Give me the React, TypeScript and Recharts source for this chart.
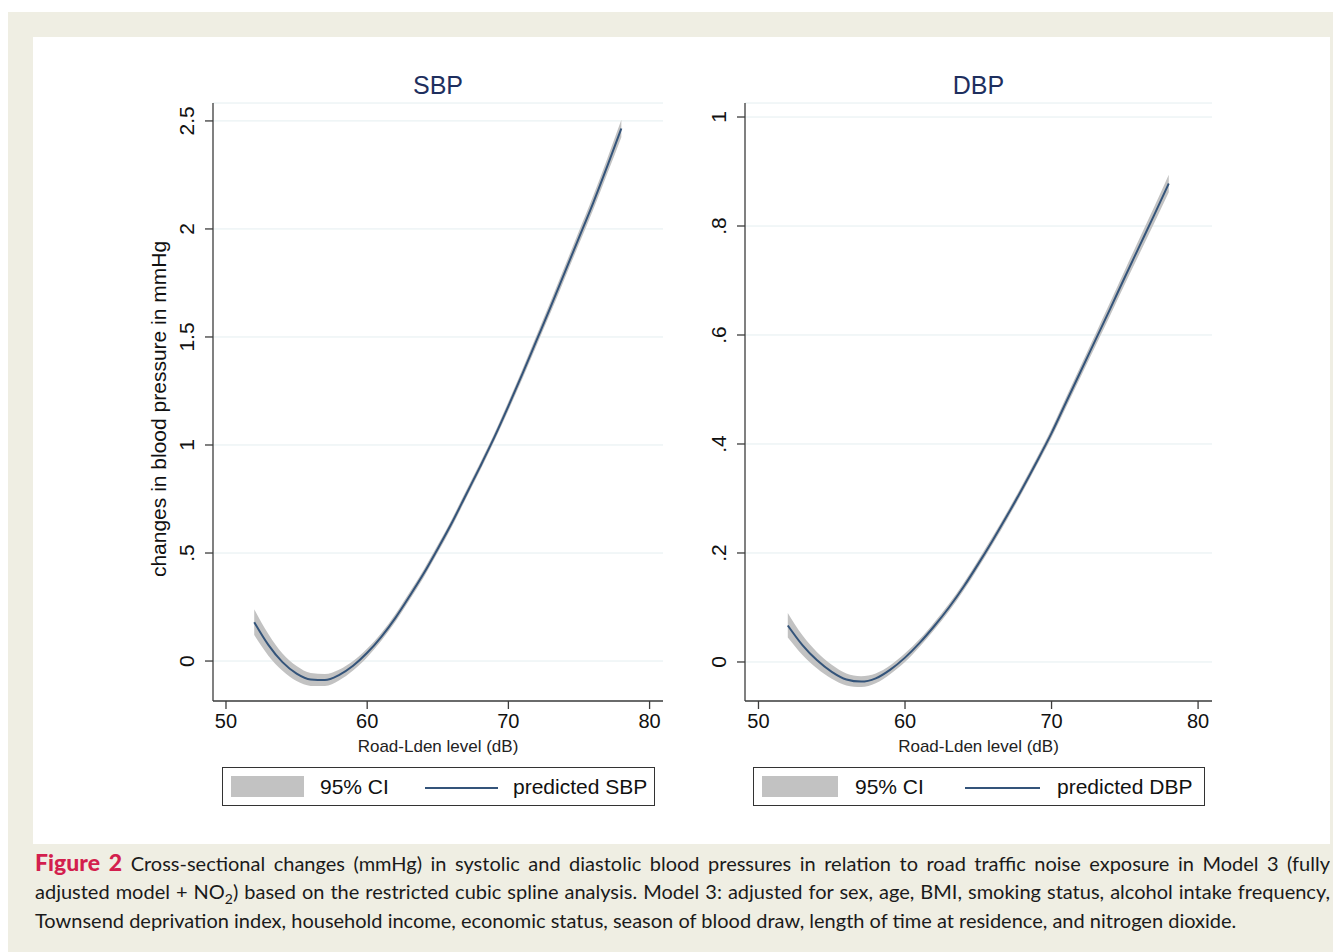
import React from 'react';
import {
  ComposedChart,
  Area,
  Line,
  XAxis,
  YAxis,
  CartesianGrid
} from 'recharts';

// Road-Lden level (dB)
const noiseLevels = [52, 53, 54, 55, 56, 57, 58, 59, 60, 61, 62, 63, 64, 65, 66, 67, 68, 69, 70, 71, 72, 73, 74, 75, 76, 77, 78];

// SBP predicted change and 95% CI
const sbpFit = [0.18, 0.075, -0.005, -0.058, -0.085, -0.088, -0.065, -0.022, 0.038, 0.112, 0.2, 0.3, 0.405, 0.52, 0.64, 0.77, 0.9, 1.035, 1.18, 1.33, 1.485, 1.64, 1.8, 1.96, 2.12, 2.29, 2.465];
const sbpLow = [0.12, 0.025, -0.045, -0.093, -0.115, -0.116, -0.09, -0.044, 0.018, 0.094, 0.182, 0.282, 0.387, 0.502, 0.622, 0.752, 0.882, 1.017, 1.16, 1.308, 1.461, 1.614, 1.772, 1.93, 2.088, 2.255, 2.425];
const sbpHigh = [0.24, 0.125, 0.035, -0.023, -0.055, -0.06, -0.04, 0.0, 0.058, 0.13, 0.218, 0.318, 0.423, 0.538, 0.658, 0.788, 0.918, 1.053, 1.2, 1.352, 1.509, 1.666, 1.828, 1.99, 2.152, 2.325, 2.505];

// DBP predicted change and 95% CI
const dbpFit = [0.067, 0.031, 0.003, -0.018, -0.032, -0.036, -0.03, -0.014, 0.008, 0.035, 0.066, 0.1, 0.138, 0.18, 0.224, 0.27, 0.318, 0.368, 0.42, 0.477, 0.534, 0.591, 0.648, 0.706, 0.763, 0.82, 0.878];
const dbpLow = [0.045, 0.013, -0.012, -0.031, -0.043, -0.046, -0.039, -0.022, 0.0, 0.028, 0.059, 0.093, 0.131, 0.173, 0.217, 0.263, 0.311, 0.361, 0.412, 0.468, 0.524, 0.58, 0.636, 0.693, 0.749, 0.805, 0.862];
const dbpHigh = [0.09, 0.049, 0.018, -0.005, -0.021, -0.026, -0.021, -0.006, 0.016, 0.042, 0.073, 0.107, 0.145, 0.187, 0.231, 0.277, 0.325, 0.375, 0.428, 0.486, 0.544, 0.602, 0.66, 0.719, 0.777, 0.835, 0.894];

const xTicks = [50, 60, 70, 80];
const sbpTicks = [0, 0.5, 1, 1.5, 2, 2.5];
const sbpTickLabels = ['0', '.5', '1', '1.5', '2', '2.5'];
const dbpTicks = [0, 0.2, 0.4, 0.6, 0.8, 1];
const dbpTickLabels = ['0', '.2', '.4', '.6', '.8', '1'];

const LINE_COLOR = '#34547a';
const CI_COLOR = '#c2c2c2';
const AXIS_COLOR = '#3c3c3c';
const GRID_COLOR = '#e4eef0';
const FONT = '"Liberation Sans", Arial, sans-serif';

function buildRows(fit: number[], low: number[], high: number[]) {
  return noiseLevels.map((x, i) => ({ x, fit: fit[i], ci: [low[i], high[i]] }));
}

function RotatedTick(props: any) {
  const { x, y, payload, labels, ticks } = props;
  const idx = ticks.indexOf(payload.value);
  const text = idx >= 0 ? labels[idx] : String(payload.value);
  const cx = x - 16;
  return (
    <text
      x={cx}
      y={y}
      transform={`rotate(-90 ${cx} ${y})`}
      textAnchor="middle"
      dominantBaseline="central"
      fontSize={21}
      fontFamily={FONT}
      fill="#111"
    >
      {text}
    </text>
  );
}

interface PanelProps {
  rows: { x: number; fit: number; ci: number[] }[];
  yDomain: [number, number];
  yTicks: number[];
  yLabels: string[];
  width: number;
  yAxisWidth: number;
  rightMargin: number;
  yTitle?: string;
}

function Panel({ rows, yDomain, yTicks, yLabels, width, yAxisWidth, rightMargin, yTitle }: PanelProps) {
  return (
    <ComposedChart
      width={width}
      height={700}
      data={rows}
      margin={{ top: 43, right: rightMargin, left: 0, bottom: 0 }}
    >
      <CartesianGrid horizontal vertical={false} stroke={GRID_COLOR} strokeWidth={1} />
      <XAxis
        dataKey="x"
        type="number"
        domain={[49.08, 80.95]}
        allowDataOverflow
        ticks={xTicks}
        height={59}
        tickSize={8}
        tickMargin={5}
        stroke={AXIS_COLOR}
        strokeWidth={1.3}
        tick={{ fontSize: 20, fontFamily: FONT, fill: '#111' }}
        label={(p: any) => {
          const vb = p.viewBox;
          return (
            <text
              x={vb.x + vb.width / 2}
              y={vb.y + 45}
              textAnchor="middle"
              dominantBaseline="central"
              fontSize={17}
              fontFamily={FONT}
              fill="#222"
            >
              Road-Lden level (dB)
            </text>
          );
        }}
      />
      <YAxis
        type="number"
        domain={yDomain}
        allowDataOverflow
        ticks={yTicks}
        width={yAxisWidth}
        tickSize={8}
        tickMargin={2}
        stroke={AXIS_COLOR}
        strokeWidth={1.3}
        tick={<RotatedTick labels={yLabels} ticks={yTicks} />}
        label={(p: any) => {
          if (!yTitle) return null;
          const vb = p.viewBox;
          const cx = vb.x + 18;
          const cy = vb.y + vb.height / 2 + 7;
          return (
            <text
              x={cx}
              y={cy}
              transform={`rotate(-90 ${cx} ${cy})`}
              textAnchor="middle"
              dominantBaseline="central"
              fontSize={21}
              fontFamily={FONT}
              fill="#111"
            >
              {yTitle}
            </text>
          );
        }}
      />
      <Area
        type="monotone"
        dataKey="ci"
        stroke="none"
        fill={CI_COLOR}
        fillOpacity={1}
        isAnimationActive={false}
      />
      <Line
        type="monotone"
        dataKey="fit"
        stroke={LINE_COLOR}
        strokeWidth={2}
        dot={false}
        isAnimationActive={false}
      />
    </ComposedChart>
  );
}

function LegendBox({ left, width, swatchW, ciLeft, lineLeft, lineW, textLeft, label }: any) {
  return (
    <div
      style={{
        position: 'absolute',
        left,
        top: 755,
        width,
        height: 39,
        border: '1.5px solid #333',
        boxSizing: 'border-box',
        fontFamily: FONT,
        fontSize: 21,
        color: '#111'
      }}
    >
      <div style={{ position: 'absolute', left: 8, top: 8, width: swatchW, height: 21, background: CI_COLOR }} />
      <div style={{ position: 'absolute', left: ciLeft, top: 7, lineHeight: '23px' }}>95% CI</div>
      <div style={{ position: 'absolute', left: lineLeft, top: 19, width: lineW, height: 2, background: LINE_COLOR }} />
      <div style={{ position: 'absolute', left: textLeft, top: 7, lineHeight: '23px' }}>{label}</div>
    </div>
  );
}

const captionLine: React.CSSProperties = {
  height: 29,
  lineHeight: '29px',
  whiteSpace: 'nowrap'
};

export default function App() {
  const sbpRows = buildRows(sbpFit, sbpLow, sbpHigh);
  const dbpRows = buildRows(dbpFit, dbpLow, dbpHigh);

  return (
    <div
      style={{
        position: 'relative',
        marginTop: 4,
        width: 1333,
        height: 940,
        background: '#efeee3',
        overflow: 'hidden'
      }}
    >
      <div style={{ position: 'absolute', left: 25, top: 25, width: 1297, height: 807, background: '#fff' }} />

      <div style={{ position: 'absolute', left: 132, top: 48 }}>
        <Panel
          rows={sbpRows}
          yDomain={[-0.185, 2.583]}
          yTicks={sbpTicks}
          yLabels={sbpTickLabels}
          width={540}
          yAxisWidth={73}
          rightMargin={17}
          yTitle="changes in blood pressure in mmHg"
        />
      </div>
      <div style={{ position: 'absolute', left: 672, top: 48 }}>
        <Panel
          rows={dbpRows}
          yDomain={[-0.0716, 1.0257]}
          yTicks={dbpTicks}
          yLabels={dbpTickLabels}
          width={550}
          yAxisWidth={65}
          rightMargin={18}
        />
      </div>

      <div style={{ position: 'absolute', left: 205, width: 450, top: 58, textAlign: 'center', fontFamily: FONT, fontSize: 25, color: '#1e2f5e', lineHeight: '30px' }}>SBP</div>
      <div style={{ position: 'absolute', left: 737, width: 467, top: 58, textAlign: 'center', fontFamily: FONT, fontSize: 25, color: '#1e2f5e', lineHeight: '30px' }}>DBP</div>

      <LegendBox left={214} width={433} swatchW={73} ciLeft={97} lineLeft={202} lineW={73} textLeft={290} label="predicted SBP" />
      <LegendBox left={745} width={452} swatchW={76} ciLeft={101} lineLeft={211} lineW={75} textLeft={303} label="predicted DBP" />

      <div style={{ position: 'absolute', left: 27, top: 836, width: 1295, fontFamily: 'Lato, sans-serif', fontSize: 20, color: '#1a1a1a' }}>
        <div style={{ ...captionLine, textAlign: 'justify', textAlignLast: 'justify', whiteSpace: 'normal', overflow: 'hidden' }}>
          <span style={{ color: '#d31f4e', fontWeight: 900, fontSize: 23 }}>Figure 2</span>{' '}
          Cross-sectional changes (mmHg) in systolic and diastolic blood pressures in relation to road traffic noise exposure in Model 3 (fully
        </div>
        <div style={{ ...captionLine, textAlign: 'justify', textAlignLast: 'justify', whiteSpace: 'normal', overflow: 'hidden' }}>
          adjusted model + NO<sub style={{ fontSize: 14, lineHeight: 0 }}>2</sub>) based on the restricted cubic spline analysis. Model 3: adjusted for sex, age, BMI, smoking status, alcohol intake frequency,
        </div>
        <div style={captionLine}>
          Townsend deprivation index, household income, economic status, season of blood draw, length of time at residence, and nitrogen dioxide.
        </div>
      </div>
    </div>
  );
}
